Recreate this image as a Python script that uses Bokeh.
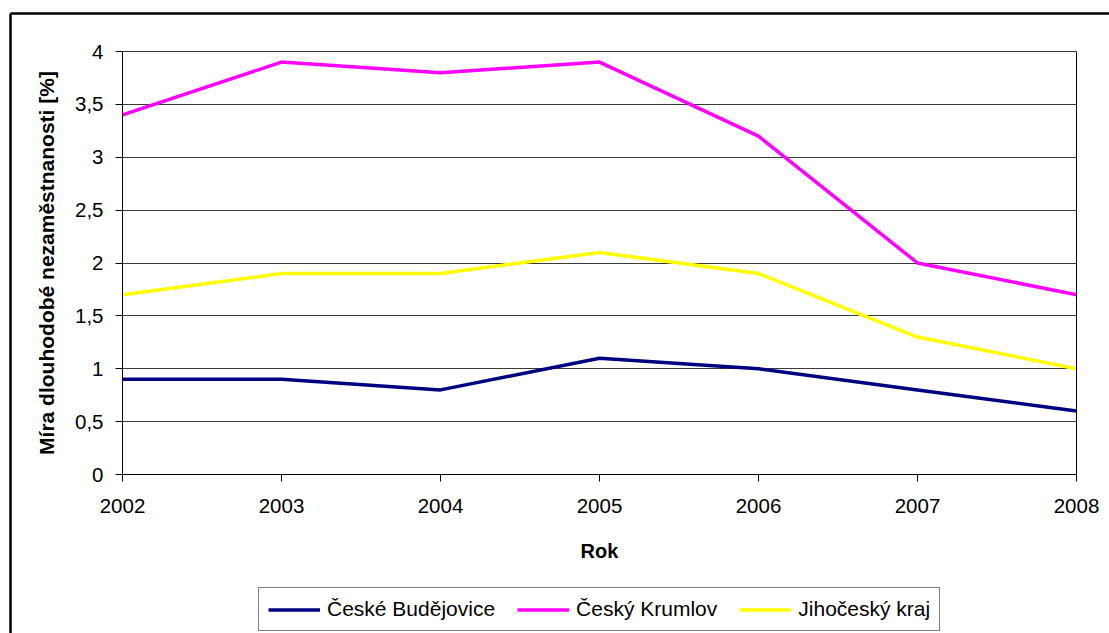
from bokeh.plotting import figure
from bokeh.models import (FixedTicker, CustomJSTickFormatter, Legend, LegendItem, Range1d,
                          LinearAxis, Grid)
from bokeh.embed import file_html
from bokeh.resources import INLINE

years = [2002, 2003, 2004, 2005, 2006, 2007, 2008]
ceske_budejovice = [0.9, 0.9, 0.8, 1.1, 1.0, 0.8, 0.6]
cesky_krumlov = [3.4, 3.9, 3.8, 3.9, 3.2, 2.0, 1.7]
jihocesky_kraj = [1.7, 1.9, 1.9, 2.1, 1.9, 1.3, 1.0]
series_names = ["České Budějovice", "Český Krumlov", "Jihočeský kraj"]
series_colors = ["#000080", "#FF00FF", "#FFFF00"]
y_ticks = [0, 0.5, 1, 1.5, 2, 2.5, 3, 3.5, 4]

FONT = "Liberation Sans"

# ---- layout (pixels of the 1109x633 canvas) ----
W, H = 1109, 633
PLOT_L, PLOT_R, PLOT_T, PLOT_B = 122, 1076, 51, 474   # plot-area box
BORDER_L, BORDER_T = 10, 13                          # outer chart border

x0, x1 = years[0], years[-1]
y0, y1 = y_ticks[0], y_ticks[-1]
px_per_x = (PLOT_R - PLOT_L) / (x1 - x0)
px_per_y = (PLOT_B - PLOT_T) / (y1 - y0)
x_range = Range1d(x0 - PLOT_L / px_per_x, x0 + (W - PLOT_L) / px_per_x)
y_range = Range1d(y0 - (H - PLOT_B) / px_per_y, y1 + PLOT_T / px_per_y)
border_x = x0 - (PLOT_L - BORDER_L) / px_per_x
border_y = y1 + (PLOT_T - BORDER_T) / px_per_y

p = figure(width=W, height=H, min_border=0,
           x_range=x_range, y_range=y_range,
           x_axis_type=None, y_axis_type=None,
           output_backend="svg", toolbar_location=None)
p.background_fill_color = "white"
p.border_fill_color = "white"
p.outline_line_color = None

# horizontal grid lines, limited to the plot area
if "cross_bounds" in Grid.properties():
    ygrid = Grid(dimension=1, ticker=FixedTicker(ticks=y_ticks), cross_bounds=(x0, x1),
                 grid_line_color="#3a3a3a", grid_line_width=1)
    p.add_layout(ygrid, "center")
else:
    p.segment(x0=[x0] * len(y_ticks), x1=[x1] * len(y_ticks), y0=y_ticks, y1=y_ticks,
              line_color="#3a3a3a", line_width=1)

def style_axis(ax):
    ax.axis_line_color = "black"
    ax.axis_line_width = 1
    ax.major_tick_line_color = "black"
    ax.major_tick_out = 7
    ax.major_tick_in = 0
    ax.minor_tick_line_color = None
    ax.major_label_text_font = FONT
    ax.major_label_text_font_size = "20.5px"
    ax.major_label_text_color = "black"
    ax.axis_label_text_font = FONT
    ax.axis_label_text_font_style = "bold"
    ax.axis_label_text_color = "black"

# x axis on the y=0 line
xaxis = LinearAxis(fixed_location=y0, bounds=(x0, x1), ticker=FixedTicker(ticks=years),
                   formatter=CustomJSTickFormatter(code="return tick.toFixed(0);"),
                   axis_label="Rok")
style_axis(xaxis)
xaxis.major_label_standoff = 17
xaxis.axis_label_text_font_size = "20px"
xaxis.axis_label_standoff = 24
p.add_layout(xaxis, "below")

# y axis on the x=2002 line
yaxis = LinearAxis(fixed_location=x0, bounds=(y0, y1), ticker=FixedTicker(ticks=y_ticks),
                   formatter=CustomJSTickFormatter(code="return tick.toString().replace('.', ',');"),
                   axis_label="Míra dlouhodobé nezaměstnanosti [%]")
style_axis(yaxis)
yaxis.major_label_standoff = 12
yaxis.axis_label_text_font_size = "21px"
yaxis.axis_label_standoff = 14
p.add_layout(yaxis, "left")

def plain_axis(loc, bounds, width):
    return LinearAxis(fixed_location=loc, bounds=bounds, ticker=FixedTicker(ticks=[]),
                      major_label_text_font_size="0px", major_tick_line_color=None,
                      minor_tick_line_color=None, axis_line_color="black",
                      axis_line_width=width)

# right edge of the plot area
p.add_layout(plain_axis(x1, (y0, y1), 1), "right")

# outer chart border (left and top edges)
p.add_layout(plain_axis(border_x, (y_range.start, border_y), 2.5), "left")
p.add_layout(plain_axis(border_y, (border_x, x_range.end), 2.5), "above")

items = []
for name, vals, col in zip(series_names, [ceske_budejovice, cesky_krumlov, jihocesky_kraj], series_colors):
    r = p.line(years, vals, line_color=col, line_width=3.5)
    items.append(LegendItem(label=name, renderers=[r]))

legend = Legend(items=items, orientation="horizontal", location=(258, 2))
legend.border_line_color = "black"
legend.border_line_width = 1
legend.background_fill_color = "white"
legend.background_fill_alpha = 1
legend.label_text_font = FONT
legend.label_text_font_size = "21px"
legend.label_text_color = "black"
legend.label_height = 21
legend.glyph_height = 21
legend.glyph_width = 52
legend.label_standoff = 7
legend.spacing = 22
legend.padding = 9
legend.margin = 0
p.add_layout(legend, "center")

open("out.html", "w").write(file_html(p, INLINE))
